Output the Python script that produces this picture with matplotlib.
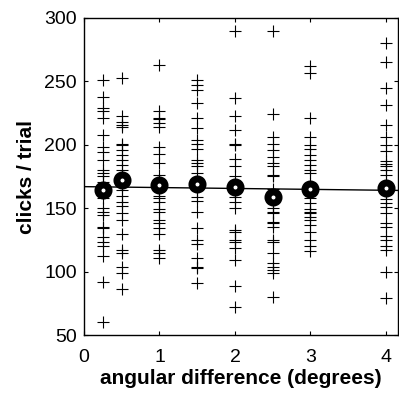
import matplotlib
matplotlib.use("Agg")
import numpy as np
import matplotlib.pyplot as plt

plt.rcParams['font.family'] = ['Liberation Sans', 'DejaVu Sans']

# angular difference conditions (degrees)
angles = [0.25, 0.5, 1, 1.5, 2, 2.5, 3, 4]

# clicks per trial for each condition
c025 = [251, 238, 229, 227, 221, 208, 198, 194, 188, 180, 178, 175, 171, 166, 162, 158,
        150, 147, 145, 135, 134, 127, 123, 120, 112, 92, 60]
c05 = [253, 223, 218, 216, 214, 201, 200, 196, 192, 188, 184, 180, 176, 172, 168, 164, 160,
       155, 152, 146, 141, 130, 117, 115, 104, 99, 86]
c1 = [263, 227, 221, 220, 217, 214, 198, 193, 186, 176, 172, 168, 164, 160, 158, 155,
      149, 147, 141, 138, 134, 130, 117, 115, 111]
c15 = [251, 247, 243, 233, 221, 213, 204, 201, 197, 188, 186, 183, 178, 172, 168, 164,
       159, 156, 147, 134, 125, 122, 111, 104, 103, 91]
c2 = [290, 237, 223, 212, 201, 200, 189, 183, 175, 170, 166, 162, 159, 155, 150, 133,
      131, 125, 123, 119, 109, 89, 72]
c25 = [290, 224, 206, 201, 196, 190, 186, 183, 176, 175, 165, 160, 155, 150, 147, 146,
       139, 138, 135, 125, 123, 115, 107, 104, 101, 99, 80]
c3 = [262, 257, 221, 206, 200, 197, 192, 188, 184, 180, 178, 170, 165, 162, 158, 154,
      149, 147, 146, 143, 141, 137, 131, 125, 120, 116]
c4 = [280, 265, 245, 231, 216, 206, 200, 195, 187, 185, 183, 180, 176, 171, 166, 162,
      157, 154, 151, 146, 138, 135, 128, 125, 120, 117, 100, 79]
clicks = [c025, c05, c1, c15, c2, c25, c3, c4]

# condition means and fitted line
means = [164, 172, 168, 169, 167, 159, 165, 166]
fit_x = [0, 4.2]
fit_y = [167, 164]

fig = plt.figure(figsize=(3.99, 3.94), dpi=100)
ax = fig.add_axes([84/399, 59/394, 314/399, 317/394])

for a, vals in zip(angles, clicks):
    ax.plot([a]*len(vals), vals, '+', color='black', markersize=9, markeredgewidth=0.8)

ax.plot(fit_x, fit_y, '-', color='black', linewidth=1.0)
ax.plot(angles, means, 'o', markerfacecolor='white', markeredgecolor='black',
        markersize=8, markeredgewidth=5)

ax.set_xlim(0, 4.16)
ax.set_ylim(50, 300)
ax.set_xticks([0, 1, 2, 3, 4])
ax.set_yticks([50, 100, 150, 200, 250, 300])
ax.tick_params(direction='in', top=True, right=True, length=3, labelsize=14)
ax.tick_params(axis='x', pad=10)
ax.tick_params(axis='y', pad=5)
for s in ax.spines.values():
    s.set_linewidth(1.0)

ax.set_xlabel('angular difference (degrees)', fontsize=15, fontweight='bold', labelpad=2)
ax.set_ylabel('clicks / trial', fontsize=15, fontweight='bold', labelpad=6)

fig.savefig('out.png', dpi=100)
